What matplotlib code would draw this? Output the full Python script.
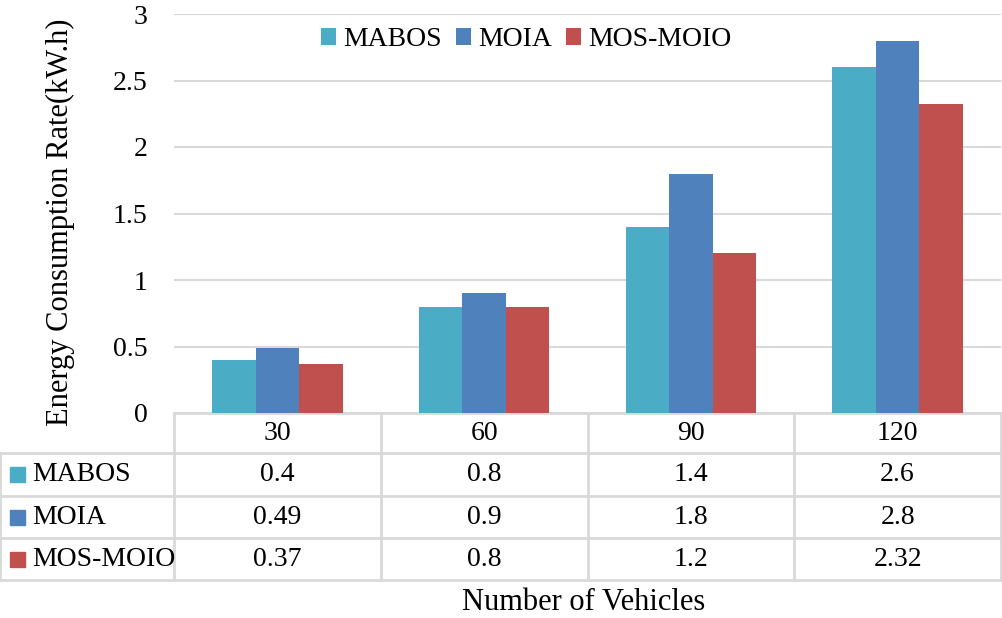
import matplotlib.pyplot as plt
from matplotlib.patches import Rectangle
import numpy as np

plt.rcParams['font.family'] = ['Liberation Serif', 'DejaVu Serif']

vehicles = ['30', '60', '90', '120']
series_names = ['MABOS', 'MOIA', 'MOS-MOIO']
mabos = [0.4, 0.8, 1.4, 2.6]
moia = [0.49, 0.9, 1.8, 2.8]
mos_moio = [0.37, 0.8, 1.2, 2.32]
table_text = [['0.4', '0.8', '1.4', '2.6'],
              ['0.49', '0.9', '1.8', '2.8'],
              ['0.37', '0.8', '1.2', '2.32']]
yticks = [0, 0.5, 1, 1.5, 2, 2.5, 3]
ytick_labels = ['0', '0.5', '1', '1.5', '2', '2.5', '3']

colors = ['#4BACC6', '#4F81BD', '#C0504D']
grid_col = '#D9D9D9'
fs = 20

W, H = 1003, 618
fig = plt.figure(figsize=(W / 100, H / 100), dpi=100)
ax_l, ax_r, ax_t, ax_b = 174, 1001, 14, 413
ax = fig.add_axes([ax_l / W, (H - ax_b) / H, (ax_r - ax_l) / W, (ax_b - ax_t) / H])

x = np.arange(len(vehicles))
w = 0.21
values = [mabos, moia, mos_moio]
for i, (vals, name) in enumerate(zip(values, series_names)):
    ax.bar(x + (i - 1) * w, vals, width=w, color=colors[i], label=name, zorder=3)

ax.set_xlim(-0.5, len(vehicles) - 0.5)
ax.set_ylim(0, 3)
ax.set_yticks(yticks)
ax.set_yticklabels(ytick_labels, fontsize=fs)
ax.set_xticks([])
ax.tick_params(axis='y', length=0, pad=19)
ax.grid(axis='y', color=grid_col, linewidth=1.5, zorder=0)
for s in ax.spines.values():
    s.set_visible(False)

leg_cx = (526 - ax_l) / (ax_r - ax_l)
leg_cy = 1 - (40 - ax_t) / (ax_b - ax_t)
leg = ax.legend(loc='center', bbox_to_anchor=(leg_cx, leg_cy), ncol=3, frameon=False,
                fontsize=fs, handlelength=0.55, handleheight=0.55, handletextpad=0.25,
                columnspacing=0.5)

# data table below the plot
px = 1.0 / (ax_b - ax_t)
unit = (ax_r - ax_l) / len(vehicles)
x_left = -0.5 - ax_l / unit
x_right = len(vehicles) - 0.5
row_edges = [413, 453, 496, 538, 580]
ry = [-(r - ax_b) * px for r in row_edges]
trans = ax.get_xaxis_transform()
lw = 2
ax.plot([-0.5, x_right], [ry[0], ry[0]], transform=trans, color=grid_col, lw=lw, clip_on=False)
for yy in ry[1:]:
    ax.plot([x_left, x_right], [yy, yy], transform=trans, color=grid_col, lw=lw, clip_on=False)
ax.plot([x_left, x_left], [ry[1], ry[-1]], transform=trans, color=grid_col, lw=lw, clip_on=False)
for k in range(len(vehicles) + 1):
    xx = -0.5 + k
    ax.plot([xx, xx], [ry[0], ry[-1]], transform=trans, color=grid_col, lw=lw, clip_on=False)

for j, v in enumerate(vehicles):
    ax.text(j, (ry[0] + ry[1]) / 2, v, transform=trans, ha='center', va='center', fontsize=fs)
for i, name in enumerate(series_names):
    yc = (ry[i + 1] + ry[i + 2]) / 2
    yc_px = (row_edges[i + 1] + row_edges[i + 2]) / 2
    fig.patches.append(Rectangle((10 / W, 1 - (yc_px + 7.5) / H), 15 / W, 15 / H,
                                 transform=fig.transFigure, color=colors[i]))
    ax.text(x_left + 32 / unit, yc, name, transform=trans, ha='left', va='center', fontsize=fs)
    for j in range(len(vehicles)):
        ax.text(j, yc, table_text[i][j], transform=trans, ha='center', va='center', fontsize=fs)

fig.text(60 / W, 1 - 222 / H, 'Energy Consumption Rate(kW.h)', rotation=90,
         ha='center', va='center', fontsize=22)
fig.text(584 / W, 1 - 603 / H, 'Number of Vehicles', ha='center', va='center', fontsize=22)

fig.savefig('out.png', dpi=100)
